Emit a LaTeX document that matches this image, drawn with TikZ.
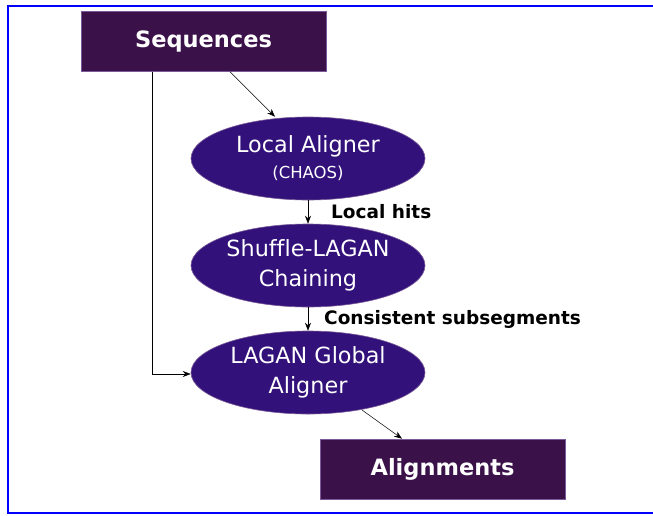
\documentclass[tikz,border=0pt]{standalone}
\usepackage{fontspec}
\setmainfont[Ligatures=NoCommon]{DejaVu Sans}
\usetikzlibrary{arrows.meta,shapes.geometric}
\definecolor{boxc}{HTML}{3A1249}
\definecolor{ellc}{HTML}{32117A}
\definecolor{edgec}{HTML}{7A5A98}
\begin{document}
\begin{tikzpicture}[x=1pt,y=-1pt,
  rbox/.style={draw=edgec,line width=0.6pt,fill=boxc,text=white,minimum width=245pt,minimum height=60pt,inner sep=0pt,font=\fontsize{22.5}{26}\selectfont\bfseries},
  ell/.style={ellipse,draw=edgec,line width=0.6pt,fill=ellc,text=white,minimum width=234pt,minimum height=83pt,inner sep=0pt,align=center,font=\fontsize{22.3}{30}\selectfont},
  lab/.style={font=\fontsize{18.5}{22}\selectfont\bfseries,anchor=west,inner sep=0pt},
  arr/.style={-{Stealth[length=8pt,width=6pt]},line width=0.5pt}]
\useasboundingbox (0,0) rectangle (653,515);
\draw[blue,line width=2.5pt] (8,6) rectangle (662,513);
\node[rbox] (seq) at (203.5,41.5) {Sequences};
\node[rbox] (ali) at (442.5,469) {Alignments};
\node[ell] (loc) at (308,158.5) {Local Aligner\\[-4pt]{\fontsize{16.5}{18}\selectfont (CHAOS)}};
\node[ell] (shu) at (308,265.5) {Shuffle-LAGAN\\Chaining};
\node[ell] (lag) at (308,372.5) {LAGAN Global\\Aligner};
\draw[arr] (seq.south -| 230,0) -- (loc.north -| 275,0);
\draw[arr] (loc) -- (shu);
\draw[arr] (shu) -- (lag);
\coordinate (c1) at (152,374);
\draw[arr] (seq.south -| c1) -- (c1) -- (lag.west |- c1);
\coordinate (e0) at (362,410);
\draw[arr] (e0) -- (ali.north -| 402,0);
\node[lab] (lh) at (331,212) {Local hits};
\node[lab] (cs) at (324,319.5) {Consistent subsegments};
\end{tikzpicture}
\end{document}
